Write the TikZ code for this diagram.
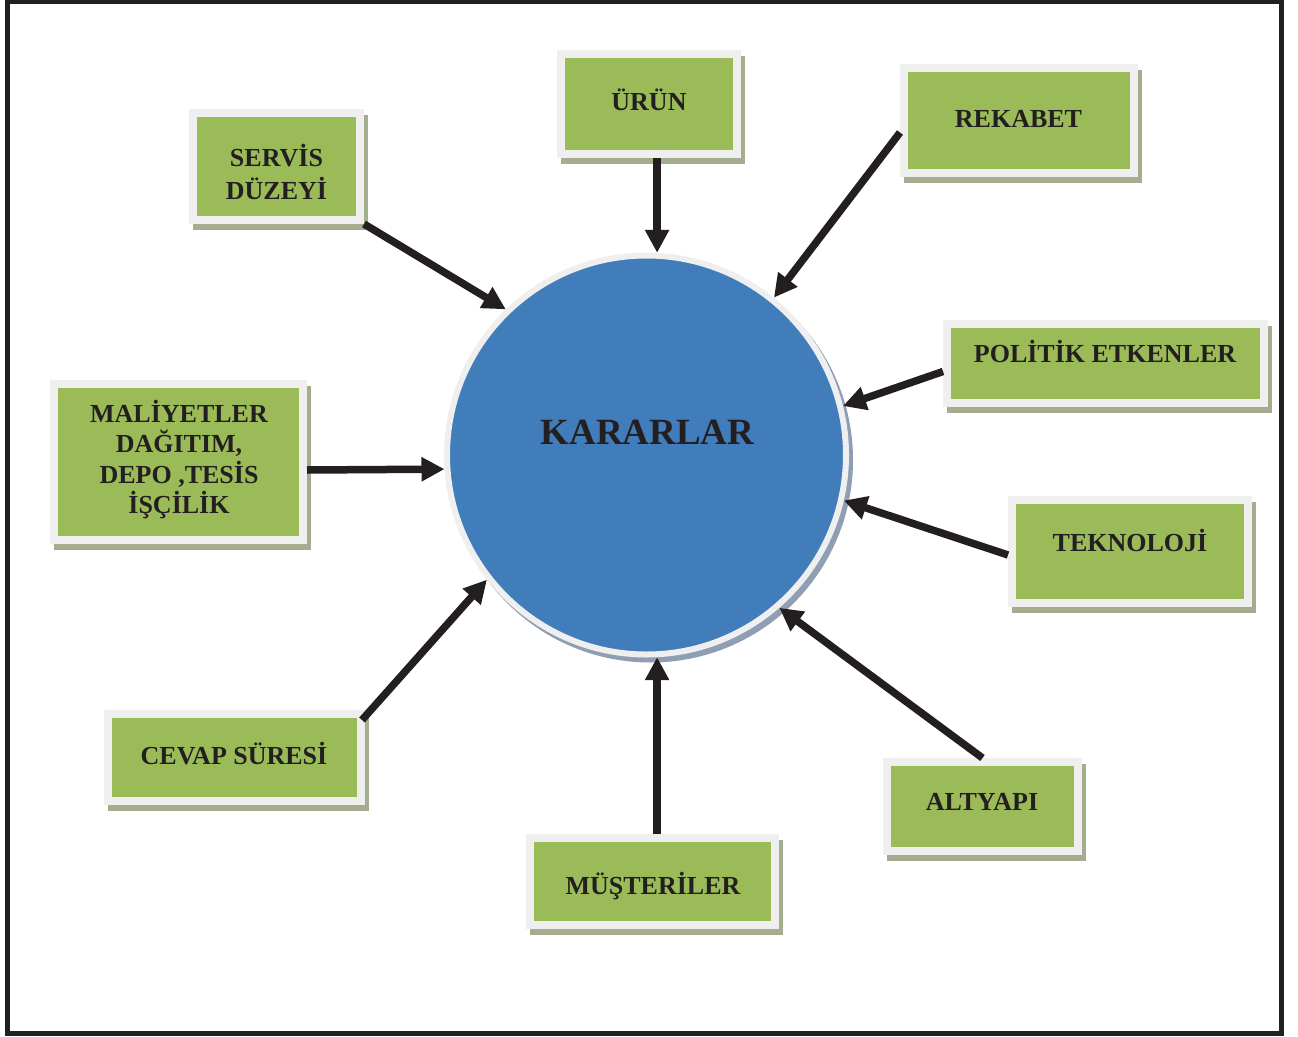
\documentclass[tikz,border=0pt]{standalone}
\usepackage{fontspec}
\setmainfont{Liberation Serif}
\usetikzlibrary{arrows.meta,calc}

\definecolor{ink}{HTML}{231F20}
\definecolor{leaf}{HTML}{9BBB59}
\definecolor{rim}{HTML}{EFEFEF}
\definecolor{leafshade}{HTML}{A4AE8E}
\definecolor{sky}{HTML}{417CBB}
\definecolor{skyshade}{HTML}{8E9EB3}

\tikzset{
  factor/.style={fill=leaf, draw=rim, line width=8pt, outer sep=4pt, inner sep=0pt,
    preaction={fill=leafshade, draw=leafshade, line width=8pt,
      transform canvas={shift={(4pt,-6pt)}}}},
  hub/.style={circle, fill=sky, draw=rim, line width=6pt, outer sep=3pt, inner sep=0pt,
    minimum size=399pt,
    preaction={fill=skyshade, draw=skyshade, line width=6pt,
      transform canvas={shift={(4pt,-5pt)}}}},
  caption/.style={font=\bfseries\fontsize{26}{30.5}\selectfont, text=ink,
    align=center, inner sep=0pt},
  bigcaption/.style={font=\bfseries\fontsize{37}{42}\selectfont, text=ink, inner sep=0pt},
  arr/.style={draw=ink, line width=7.5pt, -{Triangle[length=23pt,width=23pt]}},
}

\begin{document}
\begin{tikzpicture}[x=1pt, y=-1pt]
  \useasboundingbox (0,0) rectangle (1298,1036);

  % outer frame
  \draw[ink, line width=5pt] (7.5,1) rectangle (1281.5,1033);

  % central circle
  \node[hub] (circ) at (646.5,455) {};
  \node[bigcaption, anchor=base] (kararlar) at (647.5,444) {KARARLAR};

  % factor boxes
  \node[factor, minimum width=176pt, minimum height=100pt] (urun) at (649,104) {};
  \node[factor, minimum width=230pt, minimum height=105pt] (rekabet) at (1019,120.5) {};
  \node[factor, minimum width=167pt, minimum height=107pt] (servis) at (276.5,166.5) {};
  \node[factor, minimum width=317pt, minimum height=79pt] (politik) at (1105.5,363.5) {};
  \node[factor, minimum width=249pt, minimum height=156pt] (maliyet) at (178.5,462) {};
  \node[factor, minimum width=236pt, minimum height=103pt] (teknoloji) at (1130,551.5) {};
  \node[factor, minimum width=253pt, minimum height=87pt] (cevap) at (234.5,757.5) {};
  \node[factor, minimum width=191pt, minimum height=89pt] (altyapi) at (982.5,806.5) {};
  \node[factor, minimum width=245pt, minimum height=87pt] (musteri) at (652.5,881.5) {};

  % box texts
  \node[caption, anchor=base] (t-urun) at (649,110) {ÜRÜN};
  \node[caption, anchor=base] (t-rekabet) at (1018.5,127) {REKABET};
  \node[caption, font=\bfseries\fontsize{26}{33}\selectfont] (t-servis) at (276.5,172) {SERVİS\\DÜZEYİ};
  \node[caption, anchor=base] (t-politik) at (1105,362) {POLİTİK ETKENLER};
  \node[caption] (t-maliyet) at (179,459.5) {MALİYETLER\\DAĞITIM,\\DEPO ,TESİS\\İŞÇİLİK};
  \node[caption, anchor=base] (t-teknoloji) at (1130,551) {TEKNOLOJİ};
  \node[caption, anchor=base] (t-cevap) at (234,764) {CEVAP SÜRESİ};
  \node[caption, anchor=base] (t-altyapi) at (982,810) {ALTYAPI};
  \node[caption, anchor=base] (t-musteri) at (653,894) {MÜŞTERİLER};

  % influences pointing at the decisions
  \draw[arr] (servis.south east) -- (circ.134);
  \draw[arr] (circ.87 |- urun.south) -- (circ.87);
  \draw[arr] ($(rekabet.west)+(0,12)$) -- (circ.51);
  \draw[arr] ($(politik.west)+(0,8)$) -- (circ.14.8);
  \draw[arr] ($(maliyet.east)+(0,8)$) -- (circ.184.3);
  \draw[arr] ($(teknoloji.west)+(0,3.5)$) -- (circ.347.4);
  \draw[arr] (altyapi.north) -- (circ.311.5);
  \draw[arr] (circ.273 |- musteri.north) -- (circ.273);
  \draw[arr] ($(cevap.north east)+(-3,10)$) -- (circ.218.3);
\end{tikzpicture}
\end{document}
